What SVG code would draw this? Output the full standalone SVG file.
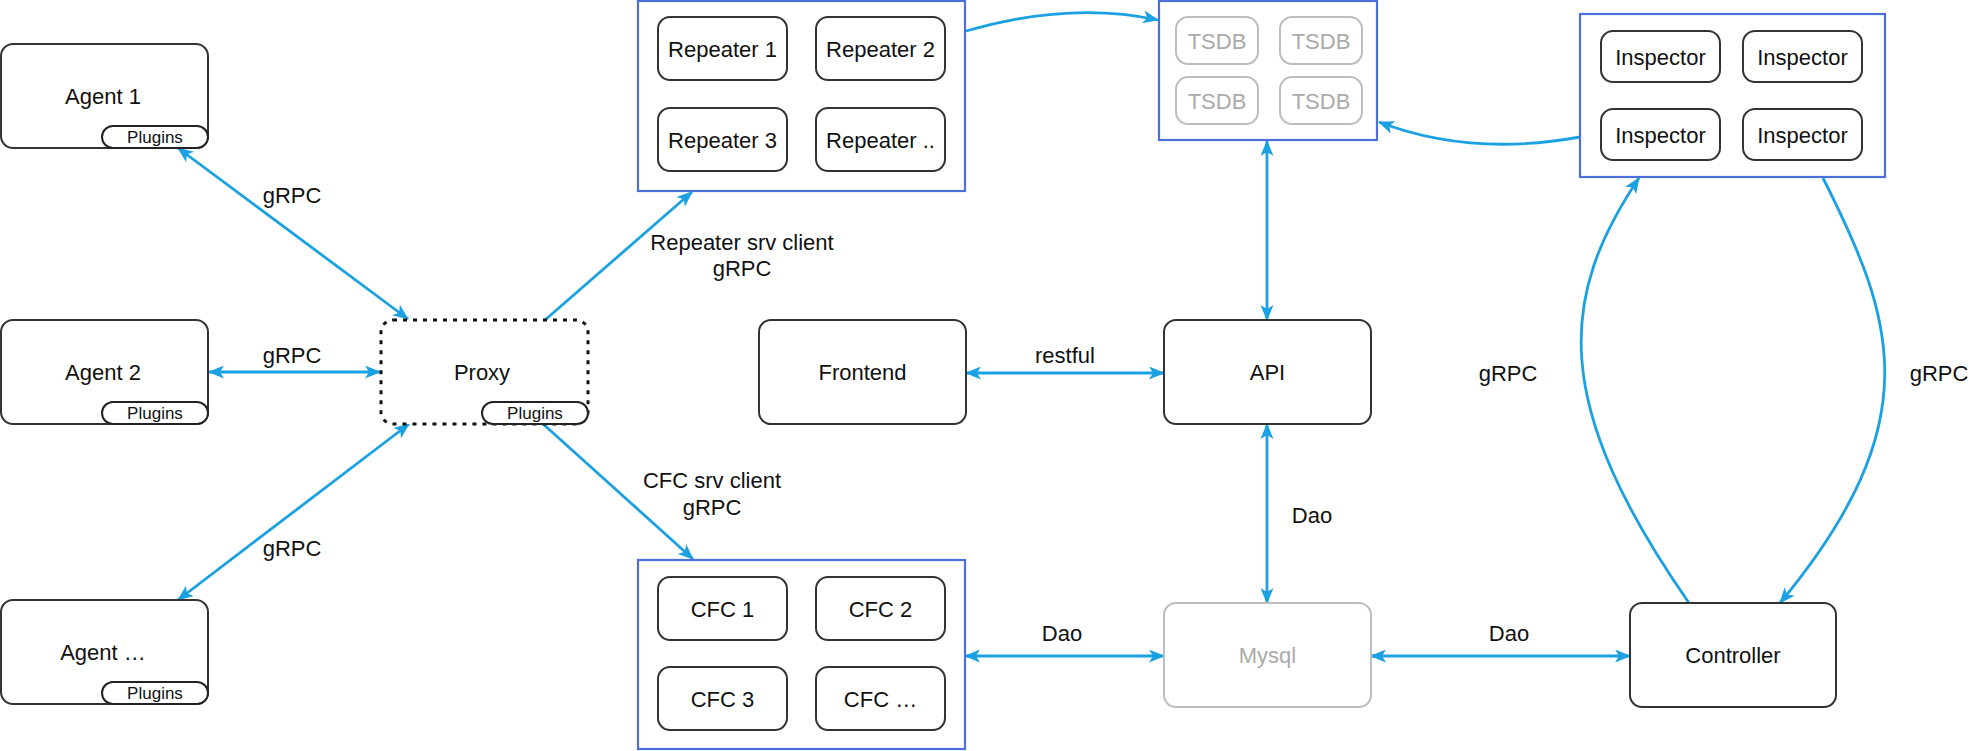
<svg xmlns="http://www.w3.org/2000/svg" width="1981" height="751" viewBox="0 0 1981 751">
<style>
text{font-family:"Liberation Sans",Arial,Helvetica,sans-serif;fill:#111;text-anchor:middle;dominant-baseline:central;font-size:22px}
.box{fill:#fff;stroke:#333;stroke-width:2}
.pill{fill:#fff;stroke:#222;stroke-width:2}
.pill-t{font-size:17px}
.cont{fill:#fff;stroke:#4d6fdc;stroke-width:2.2}
.gray{fill:#fff;stroke:#bdbdbd;stroke-width:2}
.gt{fill:#aaa}
.proxy{fill:#fff;stroke:#111;stroke-width:3;stroke-dasharray:4 6}
.c{fill:none;stroke:#1ba1e2;stroke-width:2.8}
.both{marker-start:url(#ah);marker-end:url(#ah)}
.one{marker-end:url(#ah)}
</style>
<defs>
<marker id="ah" markerUnits="userSpaceOnUse" markerWidth="16" markerHeight="13" viewBox="0 0 16 13" refX="15" refY="6.5" orient="auto-start-reverse">
<path d="M0,0 L16,6.5 L0,13 L4,6.5 Z" fill="#1ba1e2"/>
</marker>
</defs>
<rect width="1981" height="751" fill="#fff"/>

<g id="connectors">
<path class="c both" d="M178,148 L408,319"/>
<path class="c both" d="M209,372 L380,372"/>
<path class="c both" d="M178,600 L409,424"/>
<path class="c one" d="M545,320 L692,192"/>
<path class="c one" d="M542,423 L693,559"/>
<path class="c one" d="M966,31 Q1070,1 1158,20"/>
<path class="c one" d="M1580,137 Q1470,157 1379,122"/>
<path class="c both" d="M1267,141 L1267,320"/>
<path class="c both" d="M1267,424 L1267,603"/>
<path class="c both" d="M966,373 L1164,373"/>
<path class="c both" d="M965,656 L1164,656"/>
<path class="c both" d="M1371,656 L1630,656"/>
<path class="c one" d="M1689,603 C1550,403 1559,297 1639,178"/>
<path class="c one" d="M1823,178 C1894,319 1931,421 1780,603"/>
<text x="292" y="195">gRPC</text>
<text x="292" y="355">gRPC</text>
<text x="292" y="548">gRPC</text>
<text x="742" y="242">Repeater srv client</text>
<text x="742" y="268">gRPC</text>
<text x="712" y="480">CFC srv client</text>
<text x="712" y="507">gRPC</text>
<text x="1065" y="355">restful</text>
<text x="1312" y="515">Dao</text>
<text x="1062" y="633">Dao</text>
<text x="1509" y="633">Dao</text>
<text x="1508" y="373">gRPC</text>
<text x="1939" y="373">gRPC</text>
</g>

<g id="agent1">
<rect class="box" x="1" y="44" width="207" height="104" rx="12"/>
<text x="103" y="96">Agent 1</text>
<rect class="pill" x="102" y="126" width="106" height="22" rx="11"/>
<text class="pill-t" x="155" y="137">Plugins</text>
</g>
<g id="agent2">
<rect class="box" x="1" y="320" width="207" height="104" rx="12"/>
<text x="103" y="372">Agent 2</text>
<rect class="pill" x="102" y="402" width="106" height="22" rx="11"/>
<text class="pill-t" x="155" y="413">Plugins</text>
</g>
<g id="agent3">
<rect class="box" x="1" y="600" width="207" height="104" rx="12"/>
<text x="103" y="652">Agent …</text>
<rect class="pill" x="102" y="682" width="106" height="22" rx="11"/>
<text class="pill-t" x="155" y="693">Plugins</text>
</g>
<g id="proxy">
<rect class="proxy" x="381" y="320" width="207" height="104" rx="12"/>
<text x="482" y="372">Proxy</text>
<rect class="pill" x="482" y="402" width="106" height="22" rx="11"/>
<text class="pill-t" x="535" y="413">Plugins</text>
</g>

<g id="repeaters">
<rect class="cont" x="638" y="1" width="327" height="190"/>
<rect class="box" x="658" y="17" width="129" height="63" rx="12"/>
<text x="722.5" y="49">Repeater 1</text>
<rect class="box" x="816" y="17" width="129" height="63" rx="12"/>
<text x="880.5" y="49">Repeater 2</text>
<rect class="box" x="658" y="108" width="129" height="63" rx="12"/>
<text x="722.5" y="140">Repeater 3</text>
<rect class="box" x="816" y="108" width="129" height="63" rx="12"/>
<text x="880.5" y="140">Repeater ..</text>
</g>

<g id="cfcs">
<rect class="cont" x="638" y="560" width="327" height="189"/>
<rect class="box" x="658" y="577" width="129" height="63" rx="12"/>
<text x="722.5" y="609">CFC 1</text>
<rect class="box" x="816" y="577" width="129" height="63" rx="12"/>
<text x="880.5" y="609">CFC 2</text>
<rect class="box" x="658" y="667" width="129" height="63" rx="12"/>
<text x="722.5" y="699">CFC 3</text>
<rect class="box" x="816" y="667" width="129" height="63" rx="12"/>
<text x="880.5" y="699">CFC …</text>
</g>

<g id="tsdb">
<rect class="cont" x="1159" y="1" width="218" height="139"/>
<rect class="gray" x="1176" y="17" width="82" height="47" rx="12"/>
<text class="gt" x="1217" y="41">TSDB</text>
<rect class="gray" x="1280" y="17" width="82" height="47" rx="12"/>
<text class="gt" x="1321" y="41">TSDB</text>
<rect class="gray" x="1176" y="77" width="82" height="47" rx="12"/>
<text class="gt" x="1217" y="101">TSDB</text>
<rect class="gray" x="1280" y="77" width="82" height="47" rx="12"/>
<text class="gt" x="1321" y="101">TSDB</text>
</g>

<g id="inspectors">
<rect class="cont" x="1580" y="14" width="305" height="163"/>
<rect class="box" x="1601" y="31" width="119" height="51" rx="12"/>
<text x="1660.5" y="57">Inspector</text>
<rect class="box" x="1743" y="31" width="119" height="51" rx="12"/>
<text x="1802.5" y="57">Inspector</text>
<rect class="box" x="1601" y="109" width="119" height="51" rx="12"/>
<text x="1660.5" y="135">Inspector</text>
<rect class="box" x="1743" y="109" width="119" height="51" rx="12"/>
<text x="1802.5" y="135">Inspector</text>
</g>

<g id="frontend">
<rect class="box" x="759" y="320" width="207" height="104" rx="12"/>
<text x="862.5" y="372">Frontend</text>
</g>
<g id="api">
<rect class="box" x="1164" y="320" width="207" height="104" rx="12"/>
<text x="1267.5" y="372">API</text>
</g>
<g id="mysql">
<rect class="gray" x="1164" y="603" width="207" height="104" rx="12"/>
<text class="gt" x="1267.5" y="655">Mysql</text>
</g>
<g id="controller">
<rect class="box" x="1630" y="603" width="206" height="104" rx="12"/>
<text x="1733" y="655">Controller</text>
</g>
</svg>
